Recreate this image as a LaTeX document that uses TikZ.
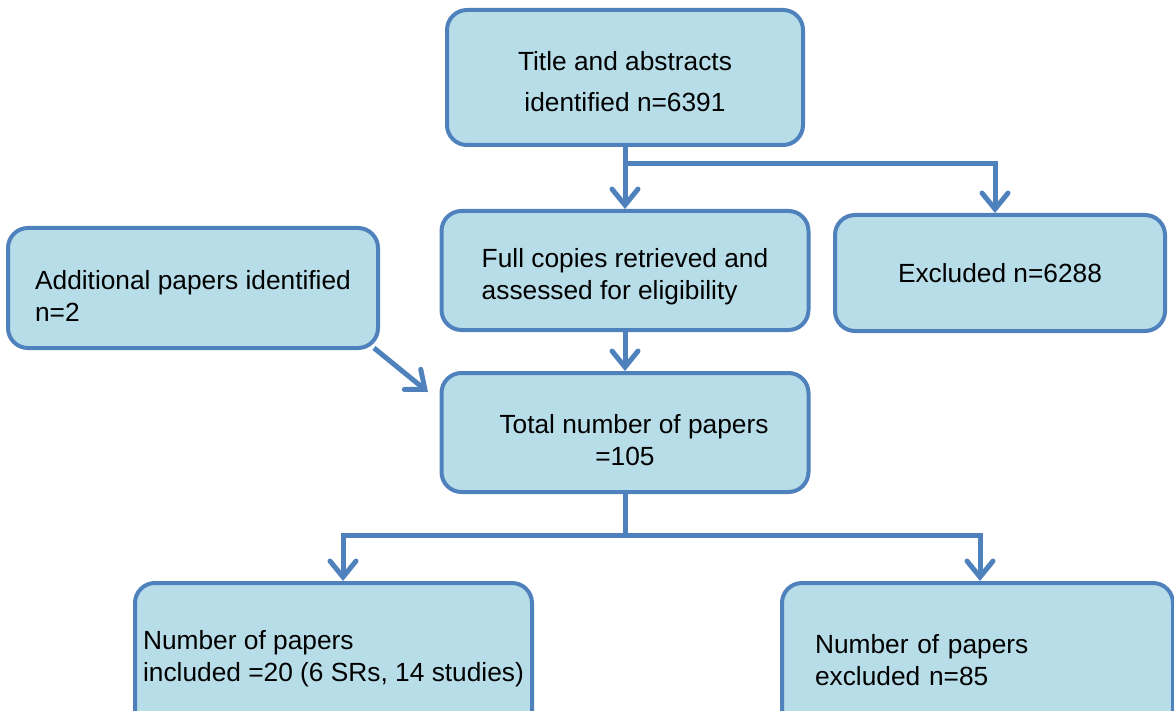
\documentclass[tikz,border=0pt]{standalone}
\usepackage{fontspec}
\setmainfont{Liberation Sans}
\usetikzlibrary{arrows.meta,calc}
\definecolor{bordc}{HTML}{4F81BD}
\definecolor{fillc}{HTML}{B7DDE8}
\newcommand{\pushdown}[1]{\rule{0pt}{#1}}
\begin{document}
\begin{tikzpicture}[x=1pt,y=-1pt,
 box/.style={draw=bordc, fill=fillc, line width=4pt, rounded corners=20pt, inner sep=0pt,
   font=\fontsize{26.3}{32}\selectfont},
 conn/.style={draw=bordc, line width=5pt, -{Straight Barb[length=16pt,width=26pt,line cap=round]}},
 link/.style={draw=bordc, line width=5pt, line cap=rect}]
\useasboundingbox (0,0) rectangle (1174,711);
\clip (0,0) rectangle (1174,711);
% boxes
\node[box, minimum width=356pt, minimum height=135pt, align=center,
  font=\fontsize{26.3}{41}\selectfont] (title) at (625,77.5) {\pushdown{27pt}Title and abstracts\\identified n=6391};
\node[box, minimum width=367pt, minimum height=119pt, align=left] (full) at (625,270.5)
  {\pushdown{31pt}Full copies retrieved and\\assessed for eligibility};
\node[box, minimum width=330pt, minimum height=116pt] (excl) at (1000,273) {Excluded n=6288};
\node[box, minimum width=370pt, minimum height=120pt, align=left] (add) at (193,288)
  {\pushdown{35pt}Additional papers identified\\n=2};
\node[box, minimum width=367pt, minimum height=119pt, align=center] (total) at (625,432.5)
  {\pushdown{35pt}\hspace*{18pt}Total number of papers\\=105};
\node[box, minimum width=397pt, minimum height=151pt, align=left] (inc) at (333.5,658.5)
  {Number of papers\\included =20 (6 SRs, 14 studies)};
\node[box, minimum width=391pt, minimum height=154pt, text width=325pt, inner xsep=33pt, align=left] (exc2) at (977.5,660)
  {Number of papers\\excluded n=85};
% connectors
\coordinate (j1) at (625,164);
\coordinate (j2) at (625,535);
\coordinate (addtip) at (428,392);
\draw[conn] (title.south) -- (full.north);
\draw[conn] (j1) -| ([xshift=-5pt]excl.north);
\draw[conn] (full.south) -- (total.north);
\draw[conn] ([xshift=-6pt,yshift=2pt]add.south east) -- (addtip);
\draw[link] (total.south) -- (j2);
\draw[conn] (j2) -| ([xshift=9.5pt]inc.north);
\draw[conn] (j2) -| ([xshift=2.5pt]exc2.north);
\end{tikzpicture}
\end{document}
